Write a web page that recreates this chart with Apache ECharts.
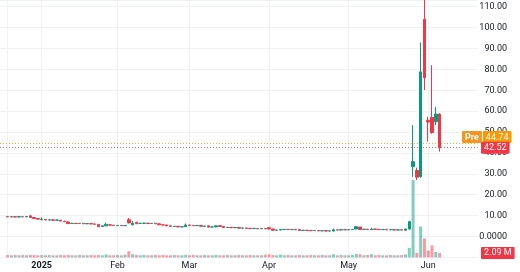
<!DOCTYPE html>
<html><head><meta charset="utf-8">
<script src="https://cdn.jsdelivr.net/npm/echarts@6/dist/echarts.min.js"></script>
<style>html,body{margin:0;padding:0;background:#fff}#c{width:520px;height:272px}</style>
</head><body><div id="c"></div>
<script>
// ---- data ----
const preDates = ['2024-12-16','2024-12-17'];
const dates = [
'2024-12-18','2024-12-19','2024-12-20','2024-12-23','2024-12-24','2024-12-26','2024-12-27','2024-12-30','2024-12-31',
'2025-01-02','2025-01-03','2025-01-06','2025-01-07','2025-01-08','2025-01-10','2025-01-13','2025-01-14','2025-01-15','2025-01-16','2025-01-17','2025-01-21','2025-01-22','2025-01-23','2025-01-24','2025-01-27','2025-01-28','2025-01-29','2025-01-30','2025-01-31',
'2025-02-03','2025-02-04','2025-02-05','2025-02-06','2025-02-07','2025-02-10','2025-02-11','2025-02-12','2025-02-13','2025-02-14','2025-02-18','2025-02-19','2025-02-20','2025-02-21','2025-02-24','2025-02-25','2025-02-26','2025-02-27','2025-02-28',
'2025-03-03','2025-03-04','2025-03-05','2025-03-06','2025-03-07','2025-03-10','2025-03-11','2025-03-12','2025-03-13','2025-03-14','2025-03-17','2025-03-18','2025-03-19','2025-03-20','2025-03-21','2025-03-24','2025-03-25','2025-03-26','2025-03-27','2025-03-28','2025-03-31',
'2025-04-01','2025-04-02','2025-04-03','2025-04-04','2025-04-07','2025-04-08','2025-04-09','2025-04-10','2025-04-11','2025-04-14','2025-04-15','2025-04-16','2025-04-17','2025-04-21','2025-04-22','2025-04-23','2025-04-24','2025-04-25','2025-04-28','2025-04-29','2025-04-30',
'2025-05-01','2025-05-02','2025-05-05','2025-05-06','2025-05-07','2025-05-08','2025-05-09','2025-05-12','2025-05-13','2025-05-14','2025-05-15','2025-05-16','2025-05-19','2025-05-20','2025-05-21','2025-05-22','2025-05-23','2025-05-27','2025-05-28','2025-05-29','2025-05-30',
'2025-06-02','2025-06-03','2025-06-04','2025-06-05'];
const postDates = ['2025-06-06','2025-06-09','2025-06-10','2025-06-11','2025-06-12','2025-06-13','2025-06-16','2025-06-17','2025-06-18','2025-06-20'];

const opens = [
9.6,9.4,9.5,9.3,9.5,9.4,9.9,9.1,8.6,
8.0,8.2,7.9,8.0,7.8,7.8,7.3,7.0,6.2,6.3,6.2,6.3,6.1,6.2,6.0,5.8,4.8,5.1,5.6,5.4,
5.2,5.3,5.2,8.0,5.6,6.8,6.3,6.3,6.4,6.2,6.3,6.1,5.6,5.5,5.1,4.8,4.9,4.6,4.7,
5.5,5.3,5.2,5.3,4.9,5.1,4.5,4.6,5.2,4.8,4.3,4.4,4.2,4.3,4.0,4.1,3.9,3.8,3.9,3.7,3.8,
4.2,3.6,3.0,3.1,3.3,3.4,3.3,3.4,3.3,2.9,3.0,2.9,2.8,2.9,2.7,2.8,2.6,2.6,3.2,3.1,3.3,
3.2,3.3,3.6,4.5,3.4,3.5,3.3,3.6,3.4,3.3,3.4,3.2,3.3,3.1,3.2,3.0,3.6,33.4,31.6,28.6,104.0,
55.6,57.0,54.9,58.6];
const highs = [
9.8,9.7,9.7,9.6,9.6,9.8,10.1,9.2,8.8,
9.2,8.4,8.2,8.1,8.0,7.9,7.5,7.1,6.5,6.4,6.4,6.4,6.3,6.3,6.1,5.9,5.2,6.6,5.8,5.5,
5.5,5.4,5.4,8.9,7.4,7.0,6.5,6.6,6.5,6.4,6.4,6.2,5.8,5.6,5.2,5.0,5.0,4.8,6.2,
5.6,5.4,5.4,5.4,5.1,5.2,4.7,5.3,5.4,4.9,4.5,4.5,4.4,4.4,4.2,4.2,4.0,4.0,4.0,3.9,3.9,
4.6,3.7,3.2,3.4,3.5,3.5,3.5,3.5,3.4,3.1,3.1,3.0,3.0,3.0,2.9,2.9,2.8,3.8,3.3,3.4,3.4,
3.4,3.5,4.9,4.6,3.6,3.6,4.2,3.7,3.5,3.5,3.5,3.4,3.4,3.3,3.3,3.8,7.5,53.3,33.0,92.9,118.0,
57.3,82.0,62.1,59.0];
const lows = [
9.3,9.2,9.2,9.2,9.3,9.3,9.0,8.5,8.2,
7.8,7.8,7.7,7.6,7.6,7.3,7.0,6.1,6.0,6.0,6.0,6.0,5.9,5.9,5.8,4.6,4.6,5.0,5.3,5.1,
5.0,5.0,5.1,6.3,5.4,6.0,6.1,6.1,6.0,6.0,6.0,5.5,5.3,5.0,4.7,4.6,4.5,4.5,4.6,
5.2,5.1,5.1,4.8,4.8,4.4,4.4,4.5,4.7,4.2,4.2,4.1,4.1,3.9,3.9,3.8,3.7,3.7,3.6,3.6,3.6,
3.5,2.9,2.9,3.0,3.2,3.2,3.2,3.1,2.8,2.8,2.8,2.7,2.7,2.6,2.6,2.5,2.5,2.5,3.0,3.0,3.1,
3.1,3.2,3.5,3.3,3.3,3.2,3.2,3.3,3.2,3.2,3.1,3.1,3.0,3.0,3.0,2.9,3.4,28.6,27.0,28.2,70.1,
45.4,49.2,53.3,40.6];
const closes = [
9.4,9.5,9.3,9.5,9.4,9.6,9.1,8.6,8.3,
8.3,7.9,8.0,7.8,7.9,7.4,7.1,6.2,6.3,6.2,6.3,6.1,6.2,6.0,5.9,4.7,5.1,5.8,5.4,5.3,
5.3,5.2,5.3,6.5,6.4,6.1,6.3,6.4,6.2,6.3,6.1,5.6,5.5,5.1,4.8,4.9,4.6,4.7,5.5,
5.3,5.2,5.3,4.9,5.0,4.5,4.6,5.1,4.8,4.3,4.4,4.2,4.3,4.0,4.1,3.9,3.8,3.9,3.7,3.8,3.7,
3.6,3.0,3.1,3.3,3.4,3.3,3.4,3.2,2.9,3.0,2.9,2.8,2.9,2.7,2.8,2.6,2.7,3.2,3.1,3.3,3.2,
3.3,3.4,4.7,3.4,3.5,3.3,3.6,3.4,3.3,3.4,3.2,3.3,3.1,3.2,3.1,3.6,7.1,35.8,28.4,78.8,76.0,
54.8,49.7,58.6,42.52];
const volumes = [
1.1,1.0,1.1,1.0,1.1,1.0,1.2,1.1,1.0,
1.1,1.0,1.1,1.0,1.0,1.1,1.0,1.1,1.0,1.0,1.1,1.0,1.0,1.1,1.0,1.1,1.0,1.4,1.0,1.0,
1.1,1.0,1.3,2.9,1.5,1.1,1.0,1.1,1.0,1.0,1.1,1.0,1.1,1.0,1.0,1.1,1.0,1.0,1.2,
1.0,1.1,1.0,1.0,1.1,1.0,1.0,1.1,1.0,1.0,1.1,1.0,1.0,1.1,1.0,1.0,1.1,1.0,1.0,1.0,1.3,
1.4,1.1,1.0,1.3,1.0,1.1,1.0,1.0,1.1,1.0,1.0,1.1,1.0,1.0,1.1,1.0,1.0,1.5,1.0,1.1,1.0,
1.0,1.1,1.6,1.5,1.0,1.1,1.5,1.0,1.1,1.0,1.0,1.1,1.0,1.0,1.1,1.4,4.5,36.5,2.1,14.6,8.9,
3.2,5.7,2.6,2.09];

const tickDates  = ['2025-01-02','2025-02-03','2025-03-03','2025-04-01','2025-05-01','2025-06-02'];
const tickLabels = ['2025','Feb','Mar','Apr','May','Jun'];
const gridDates  = ['2024-12-18'].concat(tickDates);
const prePrice = 44.74;
const lastPrice = 42.52;
const lastVolume = 2.09;

// ---- chart ----
const UP = '#089981', DOWN = '#f23645', ORANGE = '#ff9800';
const FONT = 'Roboto, sans-serif';
const axisDates = preDates.concat(dates, postDates);
const candleData = dates.map((d, i) => [d, opens[i], closes[i], lows[i], highs[i]]);
const volData = dates.map((d, i) => [d, volumes[i]]);

const chart = echarts.init(document.getElementById('c'), null, {renderer: 'canvas'});
const GRID_R = 42.5, GRID_B = 14.6;
chart.setOption({
  animation: false,
  backgroundColor: '#ffffff',
  grid: [
    {left: 0, right: GRID_R, top: 0, bottom: GRID_B},
    {left: 0, right: GRID_R, bottom: GRID_B, height: 100}
  ],
  xAxis: [
    {
      type: 'category', gridIndex: 0, data: axisDates, boundaryGap: false,
      axisLine: {show: false}, axisTick: {show: false},
      axisLabel: {
        interval: (idx, val) => tickDates.indexOf(val) >= 0,
        formatter: (val) => {
          const k = tickDates.indexOf(val);
          if (k < 0) return '';
          return k === 0 ? '{b|' + tickLabels[k] + '}' : tickLabels[k];
        },
        color: '#131722', fontSize: 9, fontFamily: FONT, margin: 4,
        rich: {b: {fontWeight: 'bold', fontSize: 9, fontFamily: FONT, color: '#131722'}}
      },
      splitLine: {show: true, interval: (idx, val) => gridDates.indexOf(val) >= 0,
        lineStyle: {color: '#eff1f5', width: 1}}
    },
    {
      type: 'category', gridIndex: 1, data: axisDates, boundaryGap: false, show: false
    }
  ],
  yAxis: [
    {
      type: 'value', gridIndex: 0, position: 'right', min: -10, max: 113.2, interval: 10,
      axisLine: {show: false}, axisTick: {show: false},
      splitLine: {show: true, lineStyle: {color: '#eff1f5', width: 1}},
      axisLabel: {
        showMinLabel: false, showMaxLabel: false,
        formatter: (v) => (v < 0 || v > 110) ? '' : (v === 0 ? '0.0000' : v.toFixed(2)),
        color: '#131722', fontSize: 9, fontFamily: FONT, margin: 29.5, align: 'right'
      }
    },
    {
      type: 'value', gridIndex: 1, min: 0, max: 47.2, show: false, splitLine: {show: false}
    }
  ],
  series: [
    {
      type: 'bar', xAxisIndex: 1, yAxisIndex: 1, data: volData, encode: {x: 0, y: 1},
      barWidth: 3,
      itemStyle: {
        color: (p) => closes[p.dataIndex] >= opens[p.dataIndex] ? 'rgba(8,153,129,0.5)' : 'rgba(242,54,69,0.5)'
      },
      markLine: {
        silent: true, symbol: ['none', 'none'],
        lineStyle: {color: 'rgba(0,0,0,0)', width: 0},
        label: {
          show: true, position: 'end', distance: 3.5,
          formatter: () => lastVolume.toFixed(2) + ' M',
          color: '#fff', backgroundColor: DOWN, fontSize: 9, fontFamily: FONT,
          padding: [2, 3, 1, 3], borderRadius: 1
        },
        data: [{yAxis: lastVolume}]
      }
    },
    {
      type: 'candlestick', xAxisIndex: 0, yAxisIndex: 0, data: candleData,
      zlevel: 1,
      encode: {x: 0, y: [1, 2, 3, 4]},
      barWidth: 3,
      itemStyle: {color: UP, color0: DOWN, borderColor: UP, borderColor0: DOWN, borderWidth: 1},
      markLine: {
        silent: true, symbol: ['none', 'none'],
        data: [
          {
            yAxis: prePrice,
            lineStyle: {color: 'rgba(255,152,0,0.8)', type: [1, 2], width: 1},
            label: {
              show: true, position: 'end', distance: -15.5,
              padding: [0, 0, 12, 0],
              formatter: () => '{p|Pre}{s| }{v|' + prePrice.toFixed(2) + '}',
              rich: {
                p: {color: '#fff', backgroundColor: '#f7941d', fontSize: 9, fontFamily: FONT, fontWeight: 'bold', padding: [2, 3, 1, 3], borderRadius: 1},
                s: {fontSize: 2, width: 1},
                v: {color: '#fff', backgroundColor: ORANGE, fontSize: 9, fontFamily: FONT, padding: [2, 3, 1, 3], borderRadius: 1}
              }
            }
          },
          {
            yAxis: lastPrice,
            lineStyle: {color: 'rgba(242,54,69,0.8)', type: [1, 2], width: 1},
            label: {
              show: true, position: 'end', distance: 3.5,
              formatter: () => lastPrice.toFixed(2),
              color: '#fff', backgroundColor: DOWN, fontSize: 9, fontFamily: FONT,
              padding: [2, 3, 1, 3], borderRadius: 1
            }
          }
        ]
      }
    }
  ]
});
</script>
</body></html>
